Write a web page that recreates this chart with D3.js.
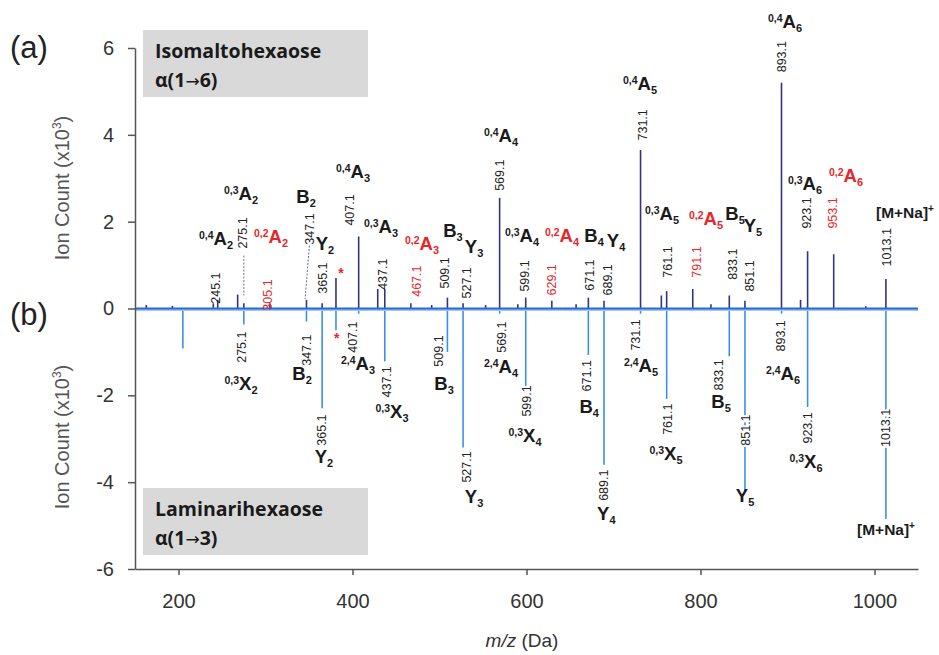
<!DOCTYPE html>
<html>
<head>
<meta charset="utf-8">
<script src="https://cdn.jsdelivr.net/npm/d3@7/dist/d3.min.js"></script>
<style>
  body { margin: 0; background: #fff; }
  svg { display: block; }
</style>
</head>
<body>
<div id="chart"></div>
<script>
// peaks: m/z and ion count (x10^3)
const topMz  = [163, 193, 240, 245.1, 268, 275.1, 305.1, 347.1, 365.1, 381, 407.1, 429, 437.1, 467.1, 491, 509.1, 527.1, 553, 569.1, 590, 599.1, 629.1, 657, 671.1, 689.1, 731.1, 755, 761.1, 791.1, 812, 833.1, 851.1, 893.1, 915, 923.1, 953.1, 990, 1013.1];
const topInt = [0.08, 0.06, 0.12, 0.2, 0.32, 0.12, 0.12, 0.2, 0.12, 0.7, 1.66, 0.45, 0.45, 0.12, 0.08, 0.25, 0.12, 0.08, 2.55, 0.1, 0.25, 0.18, 0.1, 0.25, 0.18, 3.65, 0.3, 0.4, 0.45, 0.1, 0.3, 0.18, 5.2, 0.2, 1.32, 1.25, 0.05, 0.68];
const botMz  = [165, 205, 240, 275.1, 320, 347.1, 365.1, 381, 407.1, 437.1, 470, 509.1, 527.1, 569.1, 599.1, 645, 671.1, 689.1, 731.1, 761.1, 800, 833.1, 851.1, 893.1, 923.1, 970, 1013.1];
const botInt = [-0.05, -0.92, -0.06, -0.37, -0.06, -0.3, -2.3, -0.5, -0.12, -1.22, -0.06, -1.0, -3.2, -0.12, -1.85, -0.06, -1.07, -3.6, -0.12, -2.08, -0.06, -1.1, -4.2, -0.12, -2.27, -0.05, -4.85];

const xTicks = [200, 400, 600, 800, 1000];
const yTicks = [-6, -4, -2, 0, 2, 4, 6];

// annotations: [m/z text, m/z of text, level of text, ion, m/z of ion, level of ion, red]
const topLabels = [
  ["245.1", 243.1, 0.47, "^0,4A_2", 243.1, 1.46, 0],
  ["275.1", 274.1, 1.74, "^0,3A_2", 271.8, 2.5, 0],
  ["305.1", 302.9, 0.31, "^0,2A_2", 306.3, 1.51, 1],
  ["347.1", 351.1, 1.83, "B_2", 346.6, 2.43, 0],
  ["365.1", 366.1, 0.70, "Y_2", 368.4, 1.35, 0],
  ["407.1", 397.1, 2.27, "^0,4A_3", 400.6, 3.0, 0],
  ["437.1", 435.0, 0.79, "^0,3A_3", 432.8, 1.74, 0],
  ["467.1", 474.0, 0.63, "^0,2A_3", 479.9, 1.35, 1],
  ["509.1", 506.0, 0.82, "B_3", 515.5, 1.65, 0],
  ["527.1", 531.6, 0.59, "Y_3", 539.7, 1.28, 0],
  ["569.1", 569.5, 3.07, "^0,4A_4", 570.7, 3.83, 0],
  ["599.1", 598.3, 0.75, "^0,3A_4", 594.8, 1.53, 0],
  ["629.1", 629.3, 0.66, "^0,2A_4", 640.8, 1.53, 1],
  ["671.1", 672.0, 0.77, "B_4", 677.6, 1.53, 0],
  ["689.1", 693.7, 0.66, "Y_4", 702.9, 1.42, 0],
  ["731.1", 733.9, 4.23, "^0,4A_5", 730.5, 5.03, 0],
  ["761.1", 762.6, 1.07, "^0,3A_5", 755.7, 2.04, 0],
  ["791.1", 796.0, 1.07, "^0,2A_5", 806.3, 1.92, 1],
  ["833.1", 837.4, 1.02, "B_5", 839.7, 2.04, 0],
  ["851.1", 856.9, 0.75, "Y_5", 860.3, 1.76, 0],
  ["893.1", 893.7, 5.80, "^0,4A_6", 897.1, 6.45, 0],
  ["923.1", 922.4, 2.20, "^0,3A_6", 920.1, 2.74, 0],
  ["953.1", 952.3, 2.20, "^0,2A_6", 967.2, 2.92, 1],
  ["1013.1", 1014.4, 1.41, "[M+Na]+", 1035, 2.22, 0]
];
const botLabels = [
  ["275.1", 273.0, -0.89, "^0,3X_2", 271.8, -1.88, 0],
  ["347.1", 347.7, -0.96, "B_2", 342.0, -1.65, 0],
  ["365.1", 365.0, -2.80, "Y_2", 367.2, -3.56, 0],
  ["407.1", 400.6, -0.66, "^2,4A_3", 406.3, -1.42, 0],
  ["437.1", 439.7, -1.69, "^0,3X_3", 445.4, -2.52, 0],
  ["509.1", 499.4, -0.98, "B_3", 505.2, -1.88, 0],
  ["527.1", 531.6, -3.65, "Y_3", 539.7, -4.48, 0],
  ["569.1", 571.8, -0.66, "^2,4A_4", 570.7, -1.49, 0],
  ["599.1", 600.6, -2.13, "^0,3X_4", 598.3, -3.07, 0],
  ["671.1", 669.5, -1.55, "B_4", 672.1, -2.41, 0],
  ["689.1", 689.0, -4.07, "Y_4", 691.7, -4.87, 0],
  ["731.1", 725.9, -0.61, "^2,4A_5", 731.6, -1.46, 0],
  ["761.1", 762.6, -2.55, "^0,3X_5", 760.3, -3.49, 0],
  ["833.1", 821.3, -1.53, "B_5", 823.6, -2.29, 0],
  ["851.1", 852.3, -2.80, "Y_5", 851.2, -4.46, 0],
  ["893.1", 892.5, -0.63, "^2,4A_6", 894.8, -1.65, 0],
  ["923.1", 923.6, -2.75, "^0,3X_6", 921.3, -3.67, 0],
  ["1013.1", 1013.2, -2.75, "[M+Na]+", 1013.2, -5.10, 0]
];
// leader lines [m/z1, level1, m/z2, level2] and red asterisks [m/z, level]
const leaders = [[275.1, 1.22, 275.1, 0.3], [350.5, 1.45, 345.5, 0.22]];
const stars = [[386.8, 0.93], [382, -0.56]];

const width = 939, height = 655;
const svg = d3.select("#chart").append("svg")
    .attr("width", width)
    .attr("height", height);

const x = d3.scaleLinear().domain([150, 1050]).range([135, 918]);
const y = d3.scaleLinear().domain([-6, 6]).range([569, 48]);

const narrow = "'Liberation Sans Narrow','Arial Narrow','Liberation Sans',sans-serif";
const arial = "'Liberation Sans',Arial,sans-serif";
const red = "#e8262a";

// sample boxes
const boxes = [["Isomaltohexaose", "\u03b1(1", "6)", 30], ["Laminarihexaose", "\u03b1(1", "3)", 488]];
boxes.forEach(b => {
  svg.append("rect").attr("x", 143).attr("y", b[3]).attr("width", 225).attr("height", 67).attr("fill", "#d9d9d9");
  svg.append("text").attr("x", 155).attr("y", b[3] + 28).text(b[0])
    .attr("font-family", "'Open Sans',sans-serif").attr("font-weight", "bold").attr("font-size", 19.5).attr("fill", "#1a1a1a");
  const t = svg.append("text").attr("x", 155).attr("y", b[3] + 57)
    .attr("font-family", "'Open Sans',sans-serif").attr("font-weight", "bold").attr("font-size", 19.5).attr("fill", "#1a1a1a");
  t.append("tspan").text(b[1]);
  t.append("tspan").attr("font-family", "'DejaVu Sans',sans-serif").attr("font-weight", "normal").attr("font-size", 17).text("\u2192");
  t.append("tspan").text(b[2]);
});

// bottom spectrum (laminarihexaose), then top spectrum
svg.append("g").selectAll("line").data(botMz).join("line")
    .attr("x1", d => x(d)).attr("x2", d => x(d))
    .attr("y1", y(0)).attr("y2", (d, i) => y(botInt[i]))
    .attr("stroke", "#3d8fe6").attr("stroke-width", 1.6);
svg.append("g").selectAll("line").data(topMz).join("line")
    .attr("x1", d => x(d)).attr("x2", d => x(d))
    .attr("y1", y(0)).attr("y2", (d, i) => y(topInt[i]))
    .attr("stroke", "#33337e").attr("stroke-width", 1.6);

// baseline
svg.append("line").attr("x1", 135).attr("x2", 918).attr("y1", y(0) + 1).attr("y2", y(0) + 1)
    .attr("stroke", "#9cc8f2").attr("stroke-width", 3);
svg.append("line").attr("x1", 135).attr("x2", 918).attr("y1", y(0)).attr("y2", y(0))
    .attr("stroke", "#2a68d4").attr("stroke-width", 2);

// axes
const xAxis = svg.append("g").attr("transform", `translate(0,${y(-6)})`)
    .call(d3.axisBottom(x).tickValues(xTicks).tickFormat(d => String(d))
      .tickSize(6).tickSizeOuter(0).tickPadding(19));
const yAxis = svg.append("g").attr("transform", "translate(135,0)")
    .call(d3.axisLeft(y).tickValues(yTicks).tickFormat(d => String(d))
      .tickSize(7).tickSizeOuter(0).tickPadding(14));
[xAxis, yAxis].forEach(a => {
  a.select(".domain").attr("stroke", "#555").attr("stroke-width", 1.5);
  a.selectAll(".tick line").attr("stroke", "#555").attr("stroke-width", 1.5);
  a.selectAll(".tick text").attr("font-family", arial).attr("font-size", 20).attr("fill", "#333");
});

// leader lines
leaders.forEach(l => {
  svg.append("line").attr("x1", x(l[0])).attr("y1", y(l[1])).attr("x2", x(l[2])).attr("y2", y(l[3]))
    .attr("stroke", "#6c6c9c").attr("stroke-width", 1).attr("stroke-dasharray", "2,1.5");
});

function ion(g, s, px, py, color) {
  const t = g.append("text").attr("x", px).attr("y", py).attr("dy", "0.35em")
      .attr("text-anchor", "middle").attr("fill", color)
      .attr("font-family", narrow).attr("font-weight", "bold").attr("font-size", 17);
  if (s[0] === "[") {
    t.attr("font-size", 15.5);
    t.append("tspan").text("[M+Na]");
    t.append("tspan").attr("font-size", 10).attr("dy", -6).text("+");
    return;
  }
  const m = s.match(/^(?:\^([\d,]+))?([A-Z])_(\d)$/);
  if (m[1]) t.append("tspan").attr("font-size", 10.5).attr("dy", -6).text(m[1]);
  t.append("tspan").attr("font-size", 18.5).attr("dy", m[1] ? 6 : 0).text(m[2]);
  t.append("tspan").attr("font-size", 11).attr("dy", 4).text(m[3]);
}

function labels(list, halo) {
  const g = svg.append("g");
  list.forEach(l => {
    const col = l[6] ? red : "#1a1a1a";
    const num = g.append("text")
        .attr("transform", `translate(${x(l[1])},${y(l[2])}) rotate(-90)`)
        .attr("text-anchor", "middle").attr("dy", "0.35em")
        .attr("font-family", narrow).attr("font-size", 12.5)
        .attr("fill", l[6] ? red : "#222").text(l[0]);
    if (halo) num.attr("stroke", "#fff").attr("stroke-width", 4).attr("paint-order", "stroke");
    ion(g, l[3], x(l[4]), y(l[5]), col);
  });
}
labels(topLabels, false);
labels(botLabels, true);

stars.forEach(s => {
  svg.append("text").attr("x", x(s[0])).attr("y", y(s[1])).attr("dy", "0.7em")
    .attr("text-anchor", "middle").attr("fill", red).attr("font-size", 14).attr("font-weight", "bold")
    .attr("font-family", arial).text("*");
});

// panel letters and axis titles
[["(a)", 47], ["(b)", 314]].forEach(p => {
  svg.append("text").attr("x", 10).attr("y", p[1]).attr("dy", "0.35em").text(p[0])
    .attr("font-family", arial).attr("font-size", 31).attr("fill", "#222");
});
[188, 437].forEach(cy => {
  const t = svg.append("text").attr("transform", `translate(62,${cy}) rotate(-90)`)
    .attr("text-anchor", "middle").attr("dy", "0.35em")
    .attr("font-family", arial).attr("font-size", 20).attr("fill", "#555");
  t.append("tspan").text("Ion Count (x10");
  t.append("tspan").attr("font-size", 12).attr("dy", -8).text("3");
  t.append("tspan").attr("dy", 8).text(")");
});
const xt = svg.append("text").attr("x", 522).attr("y", 640).attr("dy", "0.35em").attr("text-anchor", "middle")
    .attr("font-family", arial).attr("font-size", 19).attr("fill", "#333");
xt.append("tspan").attr("font-style", "italic").text("m/z");
xt.append("tspan").text(" (Da)");
</script>
</body>
</html>
